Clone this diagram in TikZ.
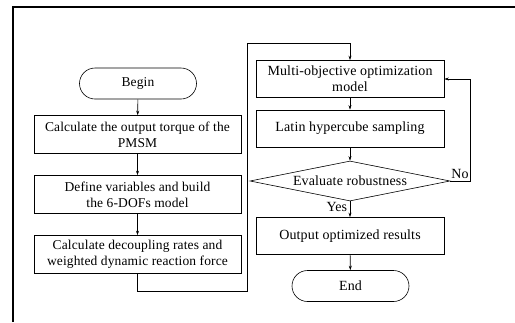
\documentclass[tikz,border=0pt]{standalone}
\usepackage{fontspec}
\setmainfont[LetterSpace=1]{Liberation Serif}
\usetikzlibrary{shapes.misc,shapes.geometric,arrows.meta}
\begin{document}
\begin{tikzpicture}[x=1pt,y={(0pt,-1pt)},
  line width=0.6pt,
  every node/.style={font=\fontsize{13.5}{16}\selectfont, inner sep=0pt},
  rfont/.style={font=\fontsize{14}{16}\selectfont},
  proc/.style={draw, rectangle, minimum width=207pt, minimum height=38pt, align=center},
  rproc/.style={draw, rectangle, minimum width=188pt, minimum height=37pt, align=center, rfont},
  term/.style={draw, rounded rectangle, minimum width=117pt, minimum height=31pt},
  dec/.style={draw, diamond, aspect=5, minimum width=200pt, minimum height=40pt, rfont},
  arr/.style={-{Stealth[length=4.5pt,width=3pt]}},
  frame/.style={line width=2pt}
]
\useasboundingbox (0,0) rectangle (515,322);
\draw[frame] (13,322) -- (13,7) -- (516,7);

\node[term] (begin) at (138,83.5) {Begin};
\node[proc] (b1) at (137.5,134.5) {Calculate the output torque of the\\PMSM};
\node[proc] (b2) at (137.5,194.5) {Define variables and build\\the 6-DOFs model};
\node[proc] (b3) at (137.5,254.5) {Calculate decoupling rates and\\weighted dynamic reaction force};

\node[rproc] (m1) at (350,79) {Multi-objective optimization\\model};
\node[rproc] (m2) at (350,128.5) {Latin hypercube sampling};
\node[dec] (dia) at (350,181) {Evaluate robustness};
\node[rproc] (out) at (350,236) {Output optimized results};
\node[term, rfont] (end) at (350.5,286) {End};

\coordinate (c1) at (137.5,291);
\coordinate (c2) at (247,291);
\coordinate (c3) at (247,43);
\coordinate (c4) at (350,43);
\coordinate (l1) at (470,181);
\coordinate (l2) at (470,79);

\draw[arr] (begin) -- (b1);
\draw[arr] (b1) -- (b2);
\draw[arr] (b2) -- (b3);
\draw (b3.south) -- (c1) -- (c2) -- (c3) -- (c4);
\draw[arr] (c4) -- (m1.north);
\draw[arr] (m1) -- (m2);
\draw[arr] (m2) -- (dia);
\draw[arr] (dia) -- (out);
\draw[arr] (out) -- (end);
\draw (dia.east) -- (l1) -- (l2);
\draw[arr] (l2) -- (m1.east);

\node[anchor=south east, rfont] (no) at (469,179) {No};
\node[anchor=east, rfont] (yes) at (347.5,207) {Yes};
\end{tikzpicture}
\end{document}
